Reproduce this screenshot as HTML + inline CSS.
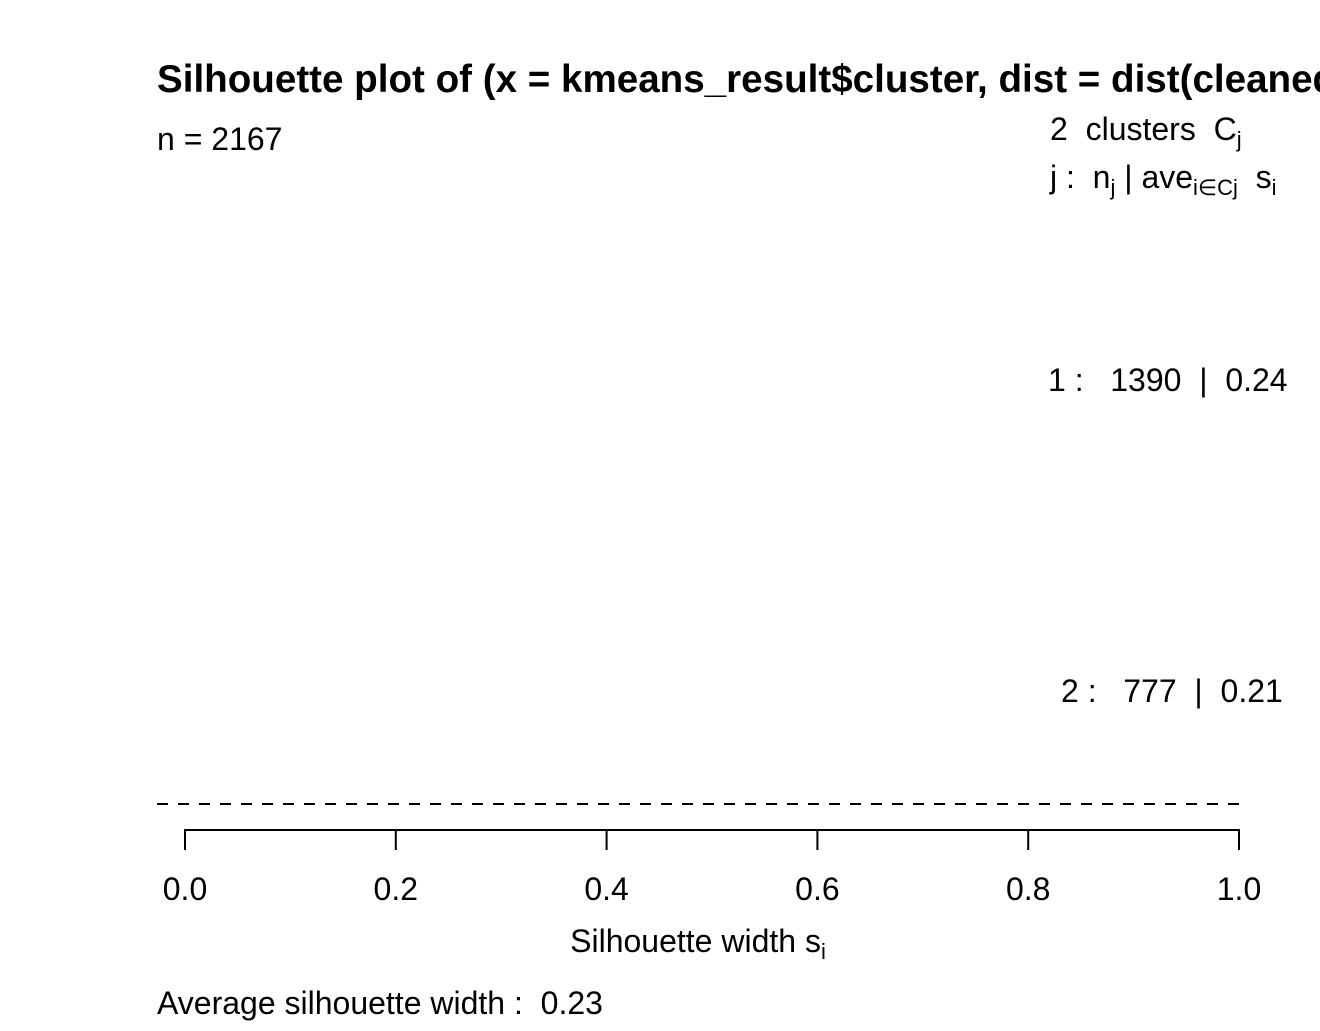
<!DOCTYPE html>
<html><head><meta charset="utf-8"><style>
body{margin:0;background:#fff}
svg text{font-family:"Liberation Sans",Arial,sans-serif;fill:#000;white-space:pre}
</style></head><body>
<svg width="1320" height="1026" xmlns="http://www.w3.org/2000/svg">
<text x="157" y="92" font-size="38.6" font-weight="bold">Silhouette plot of (x = kmeans_result$cluster, dist = dist(cleaned_data))</text>
<text x="157" y="150" font-size="32">n = 2167</text>
<text x="1050" y="140" font-size="32">2  clusters  C<tspan font-size="22" dy="7">j</tspan></text>
<text x="1050" y="188" font-size="32">j :  n<tspan font-size="22" dy="7">j</tspan><tspan dy="-7"> | ave</tspan><tspan font-size="22" dy="7">i∈Cj</tspan><tspan dy="-7">  s</tspan><tspan font-size="22" dy="7">i</tspan></text>
<text x="1048" y="391" font-size="32">1 :   1390  |  0.24</text>
<text x="1061" y="702" font-size="32">2 :   777  |  0.21</text>
<line x1="157" y1="804" x2="1239" y2="804" stroke="#000" stroke-width="2" stroke-dasharray="11 10"/>
<g id="axis"></g>
<text x="698" y="952" font-size="32" text-anchor="middle">Silhouette width s<tspan font-size="22" dy="7">i</tspan></text>
<text x="157" y="1014" font-size="32">Average silhouette width :  0.23</text>
</svg>
<script>
const ticks=[0,0.2,0.4,0.6,0.8,1.0];
const tickLabels=["0.0","0.2","0.4","0.6","0.8","1.0"];
const x=v=>185+v*(1239-185);
const g=document.getElementById('axis');
const ns="http://www.w3.org/2000/svg";
const base=document.createElementNS(ns,'line');
base.setAttribute('x1',x(ticks[0]));base.setAttribute('x2',x(ticks[ticks.length-1]));
base.setAttribute('y1',830);base.setAttribute('y2',830);base.setAttribute('stroke','#000');base.setAttribute('stroke-width',2);


g.appendChild(base);
ticks.forEach((t,i)=>{
 const l=document.createElementNS(ns,'line');
 l.setAttribute('x1',x(t));l.setAttribute('x2',x(t));l.setAttribute('y1',829);l.setAttribute('y2',850);
 l.setAttribute('stroke','#000');l.setAttribute('stroke-width',2);
 
 
 g.appendChild(l);
 const tx=document.createElementNS(ns,'text');
 tx.setAttribute('x',x(t));tx.setAttribute('y',900);tx.setAttribute('font-size',32);tx.setAttribute('text-anchor','middle');
 tx.textContent=tickLabels[i];
 
 
 g.appendChild(tx);
});
</script>
</body></html>
